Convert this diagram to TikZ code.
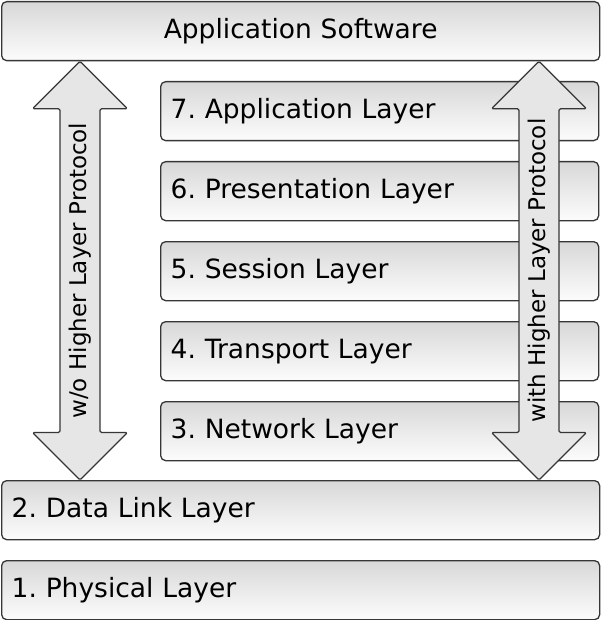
\documentclass[tikz,border=0pt]{standalone}
\usepackage{fontspec}
\setmainfont{DejaVu Sans}
\usetikzlibrary{calc}
\definecolor{linecol}{HTML}{363636}
\definecolor{boxtop}{HTML}{D8D8D8}
\definecolor{boxbot}{HTML}{FCFCFC}
\definecolor{arrowfill}{HTML}{E6E6E6}
\frenchspacing
\begin{document}
\begin{tikzpicture}[x=1pt,y=-1pt,
  box/.style={draw=linecol, line width=1.3pt, rounded corners=5pt,
    top color=boxtop, bottom color=boxbot, anchor=north west,
    minimum height=59pt, inner xsep=10pt, inner ysep=0pt,
    font=\fontsize{26.5}{30}\selectfont, text=black},
  leftbox/.style={box, text width=#1-20pt, align=left},
  centerbox/.style={box, text width=#1-20pt, align=center},
  bigarrow/.style={draw=linecol, line width=1.3pt, fill=arrowfill, rounded corners=1.5pt, line join=round},
  arrowtext/.style={rotate=90, font=\fontsize{23}{26}\selectfont, inner sep=0pt}
]
\useasboundingbox (0,0) rectangle (600,620);
\node[centerbox=598pt] (app) at (1,1) {Application Software};
\node[leftbox=438pt] (l7) at (160,81) {7. Application Layer};
\node[leftbox=438pt] (l6) at (160,161) {6. Presentation Layer};
\node[leftbox=438pt] (l5) at (160,241) {5. Session Layer};
\node[leftbox=438pt] (l4) at (160,321) {4. Transport Layer};
\node[leftbox=438pt] (l3) at (160,401) {3. Network Layer};
\node[leftbox=598pt] (l2) at (1,480) {2. Data Link Layer};
\node[leftbox=598pt] (l1) at (1,560) {1. Physical Layer};
% arrow end points on the boxes
\path (app.south west) ++(79,0) coordinate (lt);
\path (l2.north west) ++(79,0) coordinate (lb);
\path (app.south west) ++(538,0) coordinate (rt);
\path (l2.north west) ++(538,0) coordinate (rb);
\foreach \a/\b in {lt/lb, rt/rb}{
\draw[bigarrow] let \p1=(\a), \p2=(\b) in
  (\p1) -- (\x1+47.5pt,\y1-47.5pt) -- (\x1+20pt,\y1-47.5pt) -- (\x2+20pt,\y2+47.5pt)
  -- (\x2+47.5pt,\y2+47.5pt) -- (\p2) -- (\x2-47.5pt,\y2+47.5pt) -- (\x2-20pt,\y2+47.5pt)
  -- (\x1-20pt,\y1-47.5pt) -- (\x1-47.5pt,\y1-47.5pt) -- cycle;
}
\node[arrowtext] (ltext) at ($(lt)!0.5!(lb)$) {w/o Higher Layer Protocol};
\node[arrowtext] (rtext) at ($(rt)!0.5!(rb)$) {with Higher Layer Protocol};
\end{tikzpicture}
\end{document}
